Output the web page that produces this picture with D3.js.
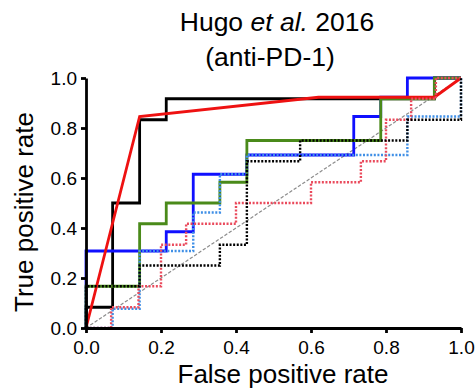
<!DOCTYPE html>
<html>
<head>
<meta charset="utf-8">
<script src="https://cdn.jsdelivr.net/npm/d3@7"></script>
<style>
  body { margin: 0; background: #fff; }
  svg { display: block; font-family: Arial, "Liberation Sans", sans-serif; }
</style>
</head>
<body>
<svg id="chart" width="476" height="388"></svg>
<script>
// ROC vertices, [false positive rate, true positive rate]
const blackSolid = [[0,0],[0,0.083],[0.071,0.083],[0.071,0.5],[0.143,0.5],[0.143,0.833],[0.214,0.833],[0.214,0.917],[0.929,0.917],[0.929,1],[1,1]];
const blueSolid = [[0,0],[0,0.308],[0.214,0.308],[0.214,0.385],[0.286,0.385],[0.286,0.615],[0.429,0.615],[0.429,0.692],[0.714,0.692],[0.714,0.846],[0.786,0.846],[0.786,0.923],[0.857,0.923],[0.857,1],[1,1]];
const greenSolid = [[0,0],[0,0.167],[0.143,0.167],[0.143,0.417],[0.214,0.417],[0.214,0.5],[0.357,0.5],[0.357,0.583],[0.429,0.583],[0.429,0.75],[0.786,0.75],[0.786,0.917],[0.929,0.917],[0.929,1],[1,1]];
const redSolid = [[0,0],[0.143,0.846],[0.62,0.923],[0.929,0.923],[1,1]];
const lightBlueDotted = [[0,0],[0.071,0],[0.071,0.077],[0.143,0.077],[0.143,0.308],[0.286,0.308],[0.286,0.462],[0.357,0.462],[0.357,0.615],[0.429,0.615],[0.429,0.692],[0.857,0.692],[0.857,0.846],[1,0.846],[1,1]];
const redDotted = [[0,0],[0.067,0],[0.067,0.083],[0.14,0.083],[0.14,0.167],[0.2,0.167],[0.2,0.333],[0.267,0.333],[0.267,0.417],[0.4,0.417],[0.4,0.5],[0.6,0.5],[0.6,0.583],[0.733,0.583],[0.733,0.667],[0.8,0.667],[0.8,0.833],[0.867,0.833],[0.867,0.917],[0.933,0.917],[0.933,1],[1,1]];
const blackDotted = [[0,0],[0,0.167],[0.143,0.167],[0.143,0.25],[0.357,0.25],[0.357,0.333],[0.429,0.333],[0.429,0.667],[0.571,0.667],[0.571,0.75],[0.857,0.75],[0.857,0.833],[1,0.833],[1,1]];
const chance = [[0,0],[1,1]];
const ticks = [0, 0.2, 0.4, 0.6, 0.8, 1.0];

const svg = d3.select("#chart");

const x = d3.scaleLinear().domain([0, 1]).range([86, 461]);
const y = d3.scaleLinear().domain([0, 1]).range([328, 78]);

const line = d3.line().x(d => x(d[0])).y(d => y(d[1]));

// chance diagonal
svg.append("path")
    .attr("d", line(chance))
    .attr("fill", "none")
    .attr("stroke", "#8c8c8c")
    .attr("stroke-width", 1.2)
    .attr("stroke-dasharray", "3.4,1.8");

// solid curves first, dotted ones sit on top
const series = [
    { pts: blackSolid, color: "#000000", width: 2.8, dash: null },
    { pts: blueSolid, color: "#1010ff", width: 2.8, dash: null },
    { pts: greenSolid, color: "#4a8a1a", width: 2.8, dash: null },
    { pts: redSolid, color: "#ee1111", width: 2.8, dash: null },
    { pts: lightBlueDotted, color: "#3f8fe6", width: 2.4, dash: "2,1.6" },
    { pts: redDotted, color: "#ea4a5c", width: 2.4, dash: "2,1.6" },
    { pts: blackDotted, color: "#000000", width: 2.4, dash: "2,1.6" }
];

series.forEach(s => {
    svg.append("path")
        .attr("d", line(s.pts))
        .attr("fill", "none")
        .attr("stroke", s.color)
        .attr("stroke-width", s.width)
        .attr("stroke-linejoin", "miter")
        .attr("stroke-dasharray", s.dash);
});

// axes
const xAxis = svg.append("g")
    .attr("transform", "translate(0,328)")
    .call(d3.axisBottom(x).tickValues(ticks).tickFormat(d3.format(".1f")).tickSize(5).tickSizeOuter(0).tickPadding(8));

const yAxis = svg.append("g")
    .attr("transform", "translate(86,0)")
    .call(d3.axisLeft(y).tickValues(ticks).tickFormat(d3.format(".1f")).tickSize(5).tickSizeOuter(0).tickPadding(4));

[xAxis, yAxis].forEach(g => {
    g.select(".domain").attr("stroke", "#000").attr("stroke-width", 2.8);
    g.selectAll(".tick line").attr("stroke", "#000").attr("stroke-width", 2.8);
    g.selectAll(".tick text")
        .attr("fill", "#000")
        .style("font-size", "19px")
        .style("font-family", "Arial, 'Liberation Sans', sans-serif");
});

// axis titles
svg.append("text")
    .attr("x", 283)
    .attr("y", 383)
    .attr("text-anchor", "middle")
    .style("font-size", "26px")
    .text("False positive rate");

svg.append("text")
    .attr("transform", "translate(33,212) rotate(-90)")
    .attr("text-anchor", "middle")
    .style("font-size", "26px")
    .text("True positive rate");

// title
const t1 = svg.append("text")
    .attr("x", 277)
    .attr("y", 31)
    .attr("text-anchor", "middle")
    .style("font-size", "26.5px");
t1.append("tspan").text("Hugo ");
t1.append("tspan").style("font-style", "italic").text("et al.");
t1.append("tspan").text(" 2016");

svg.append("text")
    .attr("x", 270)
    .attr("y", 66)
    .attr("text-anchor", "middle")
    .style("font-size", "26.5px")
    .text("(anti-PD-1)");
</script>
</body>
</html>
